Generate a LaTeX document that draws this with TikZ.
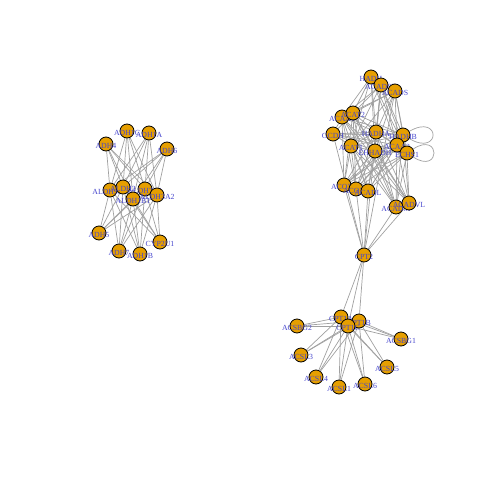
\documentclass[tikz,border=0pt]{standalone}
\usepackage{fontspec}
\setmainfont{Liberation Serif}
\usetikzlibrary{backgrounds}
\definecolor{vfill}{RGB}{230,159,0}
\definecolor{labc}{RGB}{70,70,205}
\definecolor{edgec}{RGB}{160,160,160}
\tikzset{
  v/.style={circle,draw=black,fill=vfill,line width=0.8pt,minimum size=14pt,inner sep=0pt},
  lab/.style={text=labc,font=\fontsize{7.8}{8}\selectfont,inner sep=0pt,yshift=-1.5pt},
  edge/.style={draw=edgec,line width=0.7pt},
}
\newcommand{\vx}[3]{\node[v,label={[lab]center:#3}] (#1) at (#2) {};}
\begin{document}
\begin{tikzpicture}[x=1pt,y=-1pt]
\useasboundingbox (0,0) rectangle (480,480);
% left cluster
\vx{adh1c}{127,131}{ADH1C}
\vx{adh1a}{149,133}{ADH1A}
\vx{adh4}{106,144}{ADH4}
\vx{adh6}{167,149}{ADH6}
\vx{aldh9a1}{110,190}{ALDH9A1}
\vx{aldh2}{123,187}{ALDH2}
\vx{aldh7a1}{145,189}{ALDH7A1}
\vx{aldh1b1}{133,199}{ALDH1B1}
\vx{aldh3a2}{157,195}{ALDH3A2}
\vx{adh5}{99,233}{ADH5}
\vx{adh7}{119,251}{ADH7}
\vx{adh1b}{140,254}{ADH1B}
\vx{cyp2u1}{160,242}{CYP2U1}
% right top cluster
\vx{hadh}{371,77}{HADH}
\vx{acadsb}{381,85}{ACADSB}
\vx{acads}{395,91}{ACADS}
\vx{acaa1}{342,117}{ACAA1}
\vx{acat2}{353,113}{ACAT2}
\vx{gcdh}{333,134}{GCDH}
\vx{hadha}{376,132}{HADHA}
\vx{hadhb}{403,135}{HADHB}
\vx{acat1}{351,146}{ACAT1}
\vx{ehhadh}{375,151}{EHHADH}
\vx{acaa2}{397,145}{ACAA2}
\vx{echs1}{407,153}{ECHS1}
\vx{acox1}{344,185}{ACOX1}
\vx{acox3}{356,189}{ACOX3}
\vx{acadl}{368,191}{ACADL}
\vx{acadm}{396,207}{ACADM}
\vx{acadvl}{409,203}{ACADVL}
\vx{cpt2}{364,255}{CPT2}
% bottom cluster
\vx{acsbg2}{297,326}{ACSBG2}
\vx{acsbg1}{401,339}{ACSBG1}
\vx{acsl3}{301,355}{ACSL3}
\vx{acsl5}{387,367}{ACSL5}
\vx{acsl4}{316,377}{ACSL4}
\vx{acsl1}{339,387}{ACSL1}
\vx{acsl6}{365,384}{ACSL6}
\vx{cpt1a}{341,317}{CPT1A}
\vx{cpt1b}{359,321}{CPT1B}
\vx{cpt1c}{348,326}{CPT1C}
\begin{scope}[on background layer]
\foreach \a in {adh1a,adh1b,adh1c,adh4,adh5,adh6,adh7,cyp2u1}
  \foreach \b in {aldh2,aldh1b1,aldh3a2,aldh7a1,aldh9a1}
    \draw[edge] (\a) -- (\b);
\foreach \a in {acads,acadsb,gcdh,acox1,acox3,acadl,acadm,acadvl}
  \foreach \b in {echs1,ehhadh,hadha,hadhb,acaa1,acaa2,acat1,acat2}
    \draw[edge] (\a) -- (\b);
\foreach \a in {echs1,ehhadh,hadha}
  \foreach \b in {hadh,hadhb}
    \draw[edge] (\a) -- (\b);
\draw[edge] (echs1) -- (ehhadh);
\draw[edge] (echs1) -- (hadha);
\draw[edge] (ehhadh) -- (hadha);
\foreach \a in {hadh,hadha,hadhb,ehhadh}
  \foreach \b in {acaa1,acaa2,acat1,acat2}
    \draw[edge] (\a) -- (\b);
\foreach \a in {acads,acadsb,gcdh,acox1,acox3,acadl,acadm,acadvl}
  \draw[edge] (cpt2) -- (\a);
\foreach \a in {cpt1a,cpt1b,cpt1c}{
  \draw[edge] (cpt2) -- (\a);
  \foreach \b in {acsbg1,acsbg2,acsl1,acsl3,acsl4,acsl5,acsl6}
    \draw[edge] (\a) -- (\b);
}
\draw[edge] (hadhb) .. controls +(38,-22) and +(38,22) .. (hadhb);
\draw[edge] (echs1) .. controls +(34,-22) and +(34,22) .. (echs1);
\end{scope}
\end{tikzpicture}
\end{document}
